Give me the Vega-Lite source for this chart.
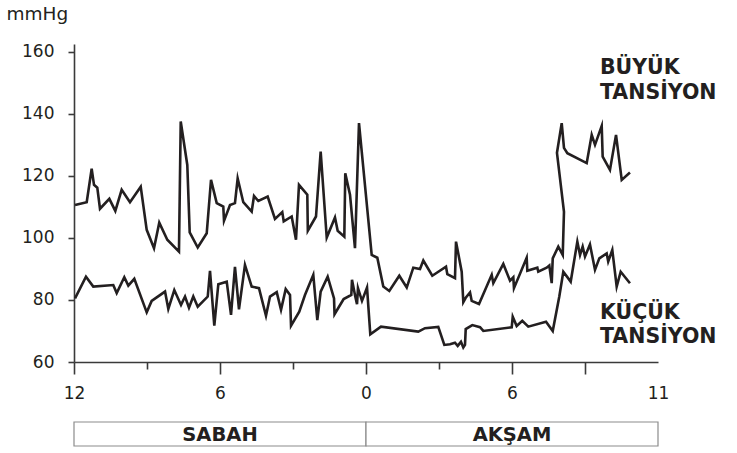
{
  "$schema": "https://vega.github.io/schema/vega-lite/v6.json",
  "background": "white",
  "padding": {"left": 6, "top": 4, "right": 0, "bottom": 0},
  "spacing": 20,
  "config": {"view": {"stroke": null}, "font": "DejaVu Sans"},
  "datasets": {
    "bp": [
      {"s":"B","i":1,"t":0.014,"v":110.6},{"s":"B","i":2,"t":0.174,"v":111.5},{"s":"B","i":3,"t":0.242,"v":122.3},{"s":"B","i":4,"t":0.274,"v":117.1},{"s":"B","i":5,"t":0.319,"v":116.2},{"s":"B","i":6,"t":0.356,"v":109.4},{"s":"B","i":7,"t":0.484,"v":112.6},{"s":"B","i":8,"t":0.566,"v":108.7},{"s":"B","i":9,"t":0.653,"v":115.5},{"s":"B","i":10,"t":0.767,"v":111.5},
      {"s":"B","i":11,"t":0.914,"v":116.5},{"s":"B","i":12,"t":0.996,"v":102.6},{"s":"B","i":13,"t":1.096,"v":96.7},{"s":"B","i":14,"t":1.168,"v":104.9},{"s":"B","i":15,"t":1.278,"v":99.4},{"s":"B","i":16,"t":1.438,"v":95.6},{"s":"B","i":17,"t":1.462,"v":137.5},{"s":"B","i":18,"t":1.552,"v":123.5},{"s":"B","i":19,"t":1.585,"v":101.8},{"s":"B","i":20,"t":1.695,"v":96.9},
      {"s":"B","i":21,"t":1.818,"v":101.5},{"s":"B","i":22,"t":1.877,"v":118.7},{"s":"B","i":23,"t":1.955,"v":111.2},{"s":"B","i":24,"t":2.045,"v":110.1},{"s":"B","i":25,"t":2.055,"v":105.5},{"s":"B","i":26,"t":2.137,"v":110.6},{"s":"B","i":27,"t":2.205,"v":111.2},{"s":"B","i":28,"t":2.242,"v":119.2},{"s":"B","i":29,"t":2.319,"v":111.5},{"s":"B","i":30,"t":2.434,"v":108.5},
      {"s":"B","i":31,"t":2.466,"v":113.5},{"s":"B","i":32,"t":2.525,"v":111.9},{"s":"B","i":33,"t":2.653,"v":113.3},{"s":"B","i":34,"t":2.753,"v":106.1},{"s":"B","i":35,"t":2.853,"v":108.3},{"s":"B","i":36,"t":2.873,"v":105.3},{"s":"B","i":37,"t":2.982,"v":106.9},{"s":"B","i":38,"t":3.041,"v":99.4},{"s":"B","i":39,"t":3.082,"v":117.1},{"s":"B","i":40,"t":3.196,"v":113.9},
      {"s":"B","i":41,"t":3.203,"v":102.3},{"s":"B","i":42,"t":3.315,"v":106.9},{"s":"B","i":43,"t":3.379,"v":127.8},{"s":"B","i":44,"t":3.462,"v":100.1},{"s":"B","i":45,"t":3.575,"v":106.6},{"s":"B","i":46,"t":3.612,"v":102.3},{"s":"B","i":47,"t":3.703,"v":100.4},{"s":"B","i":48,"t":3.716,"v":120.8},{"s":"B","i":49,"t":3.781,"v":113.9},{"s":"B","i":50,"t":3.849,"v":96.7},
      {"s":"B","i":51,"t":3.904,"v":137.0},{"s":"B","i":52,"t":4.078,"v":94.5},{"s":"B","i":53,"t":4.155,"v":93.6},{"s":"B","i":54,"t":4.237,"v":84.3},{"s":"B","i":55,"t":4.319,"v":82.9},{"s":"B","i":56,"t":4.456,"v":87.8},{"s":"B","i":57,"t":4.558,"v":84.0},{"s":"B","i":58,"t":4.648,"v":90.4},{"s":"B","i":59,"t":4.740,"v":90.0},{"s":"B","i":60,"t":4.785,"v":92.7},
      {"s":"B","i":61,"t":4.908,"v":87.8},{"s":"B","i":62,"t":5.096,"v":90.7},{"s":"B","i":63,"t":5.114,"v":88.3},{"s":"B","i":64,"t":5.219,"v":87.0},{"s":"B","i":65,"t":5.233,"v":98.8},{"s":"B","i":66,"t":5.311,"v":89.1},{"s":"B","i":67,"t":5.333,"v":79.3},{"s":"B","i":68,"t":5.366,"v":80.7},{"s":"B","i":69,"t":5.425,"v":82.4},{"s":"B","i":70,"t":5.448,"v":79.7},
      {"s":"B","i":71,"t":5.548,"v":78.7},{"s":"B","i":72,"t":5.722,"v":88.1},{"s":"B","i":73,"t":5.744,"v":85.4},{"s":"B","i":74,"t":5.881,"v":91.6},{"s":"B","i":75,"t":5.973,"v":86.2},{"s":"B","i":76,"t":6.018,"v":87.3},{"s":"B","i":77,"t":6.027,"v":83.8},{"s":"B","i":78,"t":6.201,"v":93.6},{"s":"B","i":79,"t":6.210,"v":89.4},{"s":"B","i":80,"t":6.347,"v":90.4},
      {"s":"B","i":81,"t":6.360,"v":89.1},{"s":"B","i":82,"t":6.475,"v":90.4},{"s":"B","i":83,"t":6.511,"v":91.1},{"s":"B","i":84,"t":6.544,"v":85.4},{"s":"B","i":85,"t":6.558,"v":93.4},{"s":"B","i":86,"t":6.634,"v":97.2},{"s":"B","i":87,"t":6.695,"v":94.5},{"s":"B","i":88,"t":6.712,"v":108.4},{"s":"B","i":89,"t":6.616,"v":127.4},{"s":"B","i":90,"t":6.681,"v":137.0},
      {"s":"B","i":91,"t":6.712,"v":129.0},{"s":"B","i":92,"t":6.758,"v":127.3},{"s":"B","i":93,"t":7.023,"v":124.1},{"s":"B","i":94,"t":7.092,"v":133.2},{"s":"B","i":95,"t":7.137,"v":130.0},{"s":"B","i":96,"t":7.229,"v":136.1},{"s":"B","i":97,"t":7.242,"v":126.2},{"s":"B","i":98,"t":7.342,"v":121.9},{"s":"B","i":99,"t":7.425,"v":133.2},{"s":"B","i":100,"t":7.503,"v":118.7},
      {"s":"B","i":101,"t":7.616,"v":121.1},
      {"s":"K","i":1,"t":0.014,"v":80.5},{"s":"K","i":2,"t":0.164,"v":87.5},{"s":"K","i":3,"t":0.264,"v":84.3},{"s":"K","i":4,"t":0.538,"v":84.8},{"s":"K","i":5,"t":0.585,"v":82.2},{"s":"K","i":6,"t":0.689,"v":87.3},{"s":"K","i":7,"t":0.744,"v":84.6},{"s":"K","i":8,"t":0.826,"v":86.8},{"s":"K","i":9,"t":0.996,"v":76.0},{"s":"K","i":10,"t":1.064,"v":79.7},
      {"s":"K","i":11,"t":1.247,"v":82.7},{"s":"K","i":12,"t":1.292,"v":77.1},{"s":"K","i":13,"t":1.374,"v":83.2},{"s":"K","i":14,"t":1.466,"v":78.4},{"s":"K","i":15,"t":1.521,"v":81.1},{"s":"K","i":16,"t":1.575,"v":77.5},{"s":"K","i":17,"t":1.634,"v":81.1},{"s":"K","i":18,"t":1.695,"v":77.8},{"s":"K","i":19,"t":1.832,"v":81.1},{"s":"K","i":20,"t":1.863,"v":89.4},
      {"s":"K","i":21,"t":1.922,"v":71.7},{"s":"K","i":22,"t":1.977,"v":85.1},{"s":"K","i":23,"t":2.092,"v":85.9},{"s":"K","i":24,"t":2.151,"v":75.2},{"s":"K","i":25,"t":2.205,"v":90.7},{"s":"K","i":26,"t":2.260,"v":77.0},{"s":"K","i":27,"t":2.342,"v":91.3},{"s":"K","i":28,"t":2.434,"v":84.3},{"s":"K","i":29,"t":2.534,"v":83.8},{"s":"K","i":30,"t":2.630,"v":74.9},
      {"s":"K","i":31,"t":2.685,"v":81.1},{"s":"K","i":32,"t":2.777,"v":82.5},{"s":"K","i":33,"t":2.836,"v":76.8},{"s":"K","i":34,"t":2.900,"v":83.5},{"s":"K","i":35,"t":2.959,"v":81.6},{"s":"K","i":36,"t":2.973,"v":71.7},{"s":"K","i":37,"t":3.086,"v":76.2},{"s":"K","i":38,"t":3.164,"v":81.6},{"s":"K","i":39,"t":3.278,"v":88.1},{"s":"K","i":40,"t":3.333,"v":73.5},
      {"s":"K","i":41,"t":3.379,"v":82.7},{"s":"K","i":42,"t":3.475,"v":87.5},{"s":"K","i":43,"t":3.562,"v":80.5},{"s":"K","i":44,"t":3.569,"v":75.4},{"s":"K","i":45,"t":3.694,"v":80.3},{"s":"K","i":46,"t":3.799,"v":81.6},{"s":"K","i":47,"t":3.808,"v":86.5},{"s":"K","i":48,"t":3.853,"v":81.1},{"s":"K","i":49,"t":3.877,"v":78.6},{"s":"K","i":50,"t":3.890,"v":83.8},
      {"s":"K","i":51,"t":3.945,"v":79.7},{"s":"K","i":52,"t":4.014,"v":84.0},{"s":"K","i":53,"t":4.059,"v":68.9},{"s":"K","i":54,"t":4.205,"v":71.4},{"s":"K","i":55,"t":4.716,"v":69.8},{"s":"K","i":56,"t":4.808,"v":70.9},{"s":"K","i":57,"t":4.990,"v":71.3},{"s":"K","i":58,"t":5.073,"v":65.5},{"s":"K","i":59,"t":5.151,"v":65.7},{"s":"K","i":60,"t":5.219,"v":66.2},
      {"s":"K","i":61,"t":5.256,"v":65.2},{"s":"K","i":62,"t":5.301,"v":66.5},{"s":"K","i":63,"t":5.333,"v":64.7},{"s":"K","i":64,"t":5.356,"v":65.5},{"s":"K","i":65,"t":5.366,"v":70.6},{"s":"K","i":66,"t":5.456,"v":71.9},{"s":"K","i":67,"t":5.562,"v":71.2},{"s":"K","i":68,"t":5.607,"v":70.0},{"s":"K","i":69,"t":5.996,"v":71.2},{"s":"K","i":70,"t":6.010,"v":74.6},
      {"s":"K","i":71,"t":6.064,"v":71.6},{"s":"K","i":72,"t":6.141,"v":73.3},{"s":"K","i":73,"t":6.223,"v":71.4},{"s":"K","i":74,"t":6.466,"v":73.0},{"s":"K","i":75,"t":6.558,"v":70.0},{"s":"K","i":76,"t":6.648,"v":81.1},{"s":"K","i":77,"t":6.703,"v":89.1},{"s":"K","i":78,"t":6.804,"v":85.9},{"s":"K","i":79,"t":6.895,"v":98.8},{"s":"K","i":80,"t":6.932,"v":94.5},
      {"s":"K","i":81,"t":6.968,"v":97.2},{"s":"K","i":82,"t":7.000,"v":94.0},{"s":"K","i":83,"t":7.068,"v":97.9},{"s":"K","i":84,"t":7.137,"v":89.7},{"s":"K","i":85,"t":7.196,"v":93.4},{"s":"K","i":86,"t":7.297,"v":95.0},{"s":"K","i":87,"t":7.318,"v":92.4},{"s":"K","i":88,"t":7.374,"v":96.1},{"s":"K","i":89,"t":7.434,"v":84.3},{"s":"K","i":90,"t":7.489,"v":89.1},
      {"s":"K","i":91,"t":7.616,"v":85.4}
    ],
    "parts": [
      {"part": "SABAH", "a": 0, "b": 4, "m": 2},
      {"part": "AKŞAM", "a": 4, "b": 8, "m": 6}
    ],
    "notes": [
      {"name": "BÜYÜK TANSİYON", "l1": "BÜYÜK", "l2": "TANSİYON", "t": 7.205, "v1": 152.9, "v2": 144.8},
      {"name": "KÜÇÜK TANSİYON", "l1": "KÜÇÜK", "l2": "TANSİYON", "t": 7.205, "v1": 73.9, "v2": 66.1}
    ]
  },
  "vconcat": [
    {
      "width": 584,
      "height": 318,
      "layer": [
        {
          "data": {"name": "bp"},
          "mark": {"type": "line", "color": "#231f20", "strokeWidth": 2.6, "strokeJoin": "miter", "strokeMiterLimit": 6},
          "encoding": {
            "x": {
              "field": "t", "type": "quantitative",
              "scale": {"domain": [0, 8], "nice": false, "zero": false},
              "axis": {
                "title": null, "grid": false,
                "values": [0, 1, 2, 3, 4, 5, 6, 7, 8],
                "labelExpr": "datum.value==0?'12':datum.value==2?'6':datum.value==4?'0':datum.value==6?'6':datum.value==8?'11':''",
                "domainColor": "#3a3a3a", "domainWidth": 1.6,
                "tickColor": "#3a3a3a", "tickWidth": 1.6,
                "tickSize": {"condition": {"test": "datum.value==1||datum.value==3||datum.value==5", "value": 7}, "value": 12},
                "tickOpacity": {"condition": {"test": "datum.value==8", "value": 0}, "value": 1},
                "labelFontSize": 17, "labelColor": "#231f20", "labelPadding": 11,
                "labelFlush": false, "labelOverlap": false
              }
            },
            "y": {
              "field": "v", "type": "quantitative",
              "scale": {"domain": [60, 162.5], "nice": false, "zero": false},
              "axis": {
                "title": "mmHg", "grid": false,
                "values": [60, 80, 100, 120, 140, 160],
                "titleAngle": 0, "titleAlign": "left", "titleBaseline": "alphabetic",
                "titleX": -68, "titleY": -25,
                "titleFontSize": 18.5, "titleFontWeight": "normal", "titleColor": "#231f20",
                "domainColor": "#3a3a3a", "domainWidth": 1.6,
                "tickColor": "#3a3a3a", "tickWidth": 1.6, "tickSize": 6,
                "labelFontSize": 17, "labelColor": "#231f20", "labelPadding": 14,
                "labelFlush": false, "labelOverlap": false
              }
            },
            "detail": {"field": "s"},
            "order": {"field": "i", "type": "quantitative"}
          }
        },
        {
          "mark": {"type": "point", "shape": "triangle-right", "filled": true, "size": 80, "color": "#3a3a3a", "opacity": 1},
          "encoding": {"x": {"datum": 7.95, "type": "quantitative"}, "y": {"datum": 60, "type": "quantitative"}}
        },
        {
          "mark": {"type": "point", "shape": "square", "filled": false, "size": 16, "color": "#3a3a3a", "strokeWidth": 1, "opacity": 1},
          "encoding": {"x": {"datum": 0, "type": "quantitative"}, "y": {"datum": 162.5, "type": "quantitative"}}
        },
        {
          "data": {"name": "notes"},
          "mark": {"type": "text", "align": "left", "baseline": "alphabetic", "fontSize": 20.5, "fontWeight": "bold", "color": "#231f20"},
          "encoding": {"x": {"field": "t", "type": "quantitative"}, "y": {"field": "v1", "type": "quantitative"}, "text": {"field": "l1"}}
        },
        {
          "data": {"name": "notes"},
          "mark": {"type": "text", "align": "left", "baseline": "alphabetic", "fontSize": 20.5, "fontWeight": "bold", "color": "#231f20"},
          "encoding": {"x": {"field": "t", "type": "quantitative"}, "y": {"field": "v2", "type": "quantitative"}, "text": {"field": "l2"}}
        }
      ]
    },
    {
      "width": 584,
      "height": 24,
      "data": {"name": "parts"},
      "layer": [
        {
          "mark": {"type": "rect", "fill": "white", "stroke": "#8c8c8c", "strokeWidth": 1.2},
          "encoding": {
            "x": {"field": "a", "type": "quantitative", "scale": {"domain": [0, 8], "nice": false}, "axis": null},
            "x2": {"field": "b"}
          }
        },
        {
          "mark": {"type": "text", "fontSize": 19.5, "fontWeight": "bold", "color": "#231f20", "baseline": "middle", "dy": 1},
          "encoding": {
            "x": {"field": "m", "type": "quantitative"},
            "text": {"field": "part"}
          }
        }
      ]
    }
  ]
}
